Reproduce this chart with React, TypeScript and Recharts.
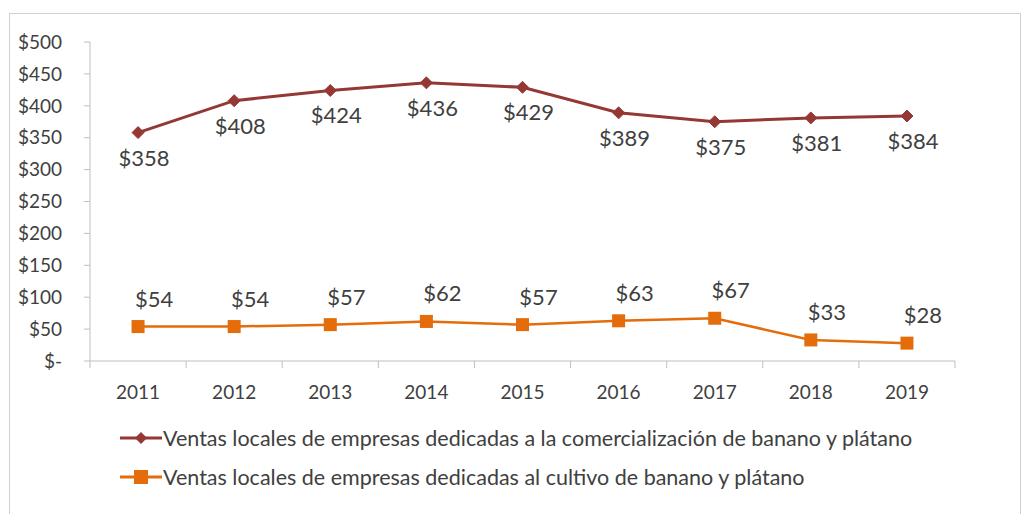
import { LineChart, Line, XAxis, YAxis, Legend } from "recharts";

const years = ["2011", "2012", "2013", "2014", "2015", "2016", "2017", "2018", "2019"];
const comercializacion = [358, 408, 424, 436, 429, 389, 375, 381, 384];
const cultivo = [54, 54, 57, 62, 57, 63, 67, 33, 28];
const yTicks = [0, 50, 100, 150, 200, 250, 300, 350, 400, 450, 500];

const seriesNames = {
  comercializacion: "Ventas locales de empresas dedicadas a la comercialización de banano y plátano",
  cultivo: "Ventas locales de empresas dedicadas al cultivo de banano y plátano",
};

const RED = "#953735";
const ORANGE = "#E46C0A";
const AXIS = "#bfbfbf";
const TEXT = "#404040";
const FONT = "Lato, 'Open Sans', sans-serif";

const data = years.map((y, i) => ({
  year: y,
  comercializacion: comercializacion[i],
  cultivo: cultivo[i],
}));

const money = (v: number) => (v === 0 ? "$-" : `$${v}`);

function Diamond(props: any) {
  const { cx, cy, index } = props;
  const r = 6;
  return (
    <path
      key={`d-${index}`}
      d={`M${cx},${cy - r} L${cx + r},${cy} L${cx},${cy + r} L${cx - r},${cy} Z`}
      fill={RED}
      stroke={RED}
    />
  );
}

function Square(props: any) {
  const { cx, cy, index } = props;
  const s = 6.5;
  return (
    <rect key={`s-${index}`} x={cx - s} y={cy - s} width={s * 2} height={s * 2} fill={ORANGE} />
  );
}

const makeLabel = (dx: number, dy: number) => (props: any) => {
  const { x, y, value, index } = props;
  return (
    <text
      key={`l-${index}-${dx}`}
      x={x + dx}
      y={y + dy}
      textAnchor="middle"
      fill={TEXT}
      fontSize={22}
      fontFamily={FONT}
    >
      {money(value)}
    </text>
  );
};

// year label plus the Excel-style tick marks between categories
function YearTick(props: any) {
  const { x, y, payload, index, width, visibleTicksCount } = props;
  const step = width / visibleTicksCount;
  const axisY = y - 25;
  return (
    <g>
      <line x1={x - step / 2} y1={axisY} x2={x - step / 2} y2={axisY + 7} stroke={AXIS} />
      {index === visibleTicksCount - 1 && (
        <line x1={x + step / 2} y1={axisY} x2={x + step / 2} y2={axisY + 7} stroke={AXIS} />
      )}
      <text x={x} y={y} dy="0.71em" textAnchor="middle" fill={TEXT} fontSize={19} fontFamily={FONT}>
        {payload.value}
      </text>
    </g>
  );
}

function LegendContent() {
  const items = [
    { name: seriesNames.comercializacion, color: RED, shape: "diamond" },
    { name: seriesNames.cultivo, color: ORANGE, shape: "square" },
  ];
  return (
    <div style={{ fontFamily: FONT, fontSize: 21.5, color: TEXT }}>
      {items.map((it) => (
        <div key={it.name} style={{ display: "flex", alignItems: "center", height: 39 }}>
          <svg width={42} height={20}>
            <line x1={0} y1={10} x2={42} y2={10} stroke={it.color} strokeWidth={3} />
            {it.shape === "diamond" ? (
              <path d="M21,4 L27,10 L21,16 L15,10 Z" fill={it.color} />
            ) : (
              <rect x={14} y={3} width={14} height={14} fill={it.color} />
            )}
          </svg>
          <span style={{ marginLeft: 1 }}>{it.name}</span>
        </div>
      ))}
    </div>
  );
}

export default function App() {
  return (
    <div style={{ position: "absolute", left: 0, top: 0, width: 1028, height: 514, background: "#fff", overflow: "hidden" }}>
      <div
        style={{
          position: "absolute",
          left: 9,
          top: 13,
          width: 1010,
          height: 520,
          border: "1.5px solid #d0d0d0",
        }}
      />
      <div style={{ position: "absolute", left: 0, top: 0 }}>
        <LineChart
          width={1028}
          height={514}
          data={data}
          margin={{ top: 42, right: 73, left: 20, bottom: 113 }}
        >
          <XAxis
            dataKey="year"
            scale="band"
            stroke={AXIS}
            tickLine={false}
            height={40}
            tickSize={6}
            tickMargin={19}
            tick={YearTick}
            interval={0}
          />
          <YAxis
            domain={[0, 500]}
            ticks={yTicks}
            tickFormatter={money}
            width={70}
            stroke={AXIS}
            tickSize={6}
            tickMargin={22}
            tick={{ fill: TEXT, fontSize: 19, fontFamily: FONT }}
          />
          <Legend
            layout="horizontal"
            verticalAlign="middle"
            align="center"
            wrapperStyle={{ top: 418, left: 120, width: "auto" }}
            content={LegendContent}
          />
          <Line
            dataKey="comercializacion"
            name={seriesNames.comercializacion}
            stroke={RED}
            strokeWidth={3}
            dot={Diamond}
            activeDot={false}
            label={makeLabel(6, 33)}
            isAnimationActive={false}
          />
          <Line
            dataKey="cultivo"
            name={seriesNames.cultivo}
            stroke={ORANGE}
            strokeWidth={2.5}
            dot={Square}
            activeDot={false}
            label={makeLabel(16, -20)}
            isAnimationActive={false}
          />
        </LineChart>
      </div>
    </div>
  );
}
